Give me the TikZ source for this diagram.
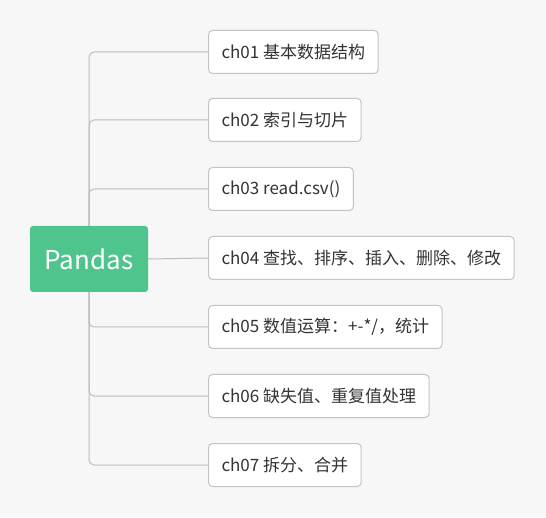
\documentclass[tikz,border=0pt]{standalone}
\usepackage{fontspec}
\setmainfont{Noto Sans CJK SC}
\usepackage{xcolor}
\usetikzlibrary{positioning}

\definecolor{bgpaper}{HTML}{F7F7F7}
\definecolor{rootgreen}{HTML}{50C48D}
\definecolor{boxline}{HTML}{C4C4C4}
\definecolor{linkgray}{HTML}{BDBDBD}
\definecolor{textgray}{HTML}{333333}

\begin{document}
\begin{tikzpicture}[
    x=1pt, y=1pt,
    root/.style={rectangle, fill=rootgreen, rounded corners=3pt, minimum width=118pt, minimum height=66pt, text=white, font=\fontsize{26}{30}\selectfont},
    topic/.style={rectangle, draw=boxline, line width=1pt, fill=white, rounded corners=4pt, anchor=west, minimum height=43pt, inner xsep=13pt, text=textgray, font=\fontsize{17}{20}\selectfont},
    link/.style={draw=linkgray, line width=1pt, rounded corners=5pt}
]

% Canvas
\fill[bgpaper] (0,0) rectangle (546,517);
\useasboundingbox (0,0) rectangle (546,517);

% Central topic
\node[root] (pandas) at (89,258) {Pandas};

% Chapters
\node[topic] (ch1) at (208,465) {ch01 基本数据结构};
\node[topic] (ch2) at (208,397) {ch02 索引与切片};
\node[topic] (ch3) at (208,328) {ch03 read.csv()};
\node[topic] (ch4) at (208,259) {ch04 查找、排序、插入、删除、修改};
\node[topic] (ch5) at (208,190) {ch05 数值运算：+-*/，统计};
\node[topic] (ch6) at (208,121) {ch06 缺失值、重复值处理};
\node[topic] (ch7) at (208,52) {ch07 拆分、合并};

% Branches
\draw[link] (pandas.north) |- (ch1.west);
\draw[link] (pandas.north) |- (ch2.west);
\draw[link] (pandas.north) |- (ch3.west);
\draw[link] (pandas.east) -- (ch4.west);
\draw[link] (pandas.south) |- (ch5.west);
\draw[link] (pandas.south) |- (ch6.west);
\draw[link] (pandas.south) |- (ch7.west);

\end{tikzpicture}
\end{document}
